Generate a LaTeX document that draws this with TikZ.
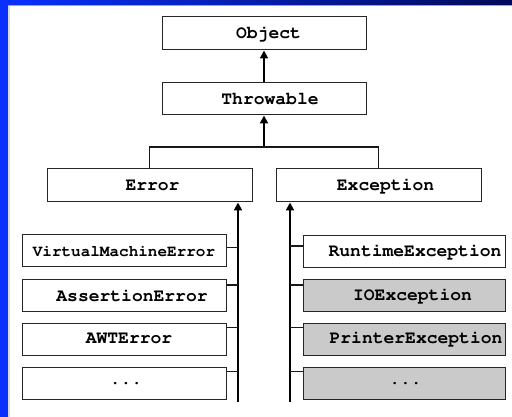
\documentclass[tikz,border=0pt]{standalone}
\usepackage[T1]{fontenc}
\usetikzlibrary{arrows.meta}
\newcommand\courbf[1]{\fontencoding{T1}\fontfamily{pcr}\fontseries{b}\fontshape{n}\fontsize{#1}{#1}\selectfont}
\definecolor{barblue}{HTML}{0A30FF}
\definecolor{navy}{HTML}{000A58}
\definecolor{boxgray}{HTML}{CACACA}
\tikzset{
  cls/.style={draw=black!85, line width=1pt, minimum height=32pt, inner sep=0pt,
    font=\courbf{18}},
  lbox/.style={cls, minimum width=204pt},
  rbox/.style={cls, minimum width=202pt},
  gbox/.style={rbox, fill=boxgray},
  thin/.style={line width=1.1pt, black!90},
  thick/.style={line width=2.6pt, -{Triangle[length=8pt,width=8pt]}},
}
\begin{document}
\begin{tikzpicture}[x=1pt,y=-1pt]
\useasboundingbox (0,0) rectangle (512,417);
% background frame
\fill[white] (0,0) rectangle (512,417);
\fill[barblue] (0,0) rectangle (7.5,417);
\fill[black!15] (7.5,6) rectangle (9.5,417);
\shade[left color=barblue, right color=navy] (0,0) rectangle (512,5);
\fill[black!35] (7.5,5) rectangle (512,6.5);
% nodes
\node[lbox, minimum height=33pt] (obj) at (264,33.5) {\hspace*{9pt}Object};
\node[lbox] (thr) at (264,99) {\hspace*{12pt}Throwable};
\node[lbox, minimum width=205pt, minimum height=33pt] (err) at (149.5,185.5) {\hspace*{6pt}Error};
\node[lbox, minimum width=205pt, minimum height=33pt] (exc) at (378.5,185.5) {\hspace*{14pt}Exception};
\node[lbox, font=\courbf{16}] (vm) at (124,251) {VirtualMachineError};
\node[lbox] (ae) at (124,295.5) {\hspace*{16pt}AssertionError};
\node[lbox] (awt) at (124,339) {\hspace*{10pt}AWTError};
\node[lbox] (ld) at (124,383) {\hspace*{4pt}...};
\node[rbox] (rt) at (404,251.5) {\hspace*{22pt}RuntimeException};
\node[gbox] (io) at (404,295.5) {\hspace*{17pt}IOException};
\node[gbox] (pr) at (404,339) {\hspace*{24pt}PrinterException};
\node[gbox] (rd) at (404,383) {\hspace*{3pt}...};
% connectors
\coordinate (J) at (264,147);
\coordinate (la) at (238,402);
\coordinate (ra) at (290,402);
\draw[thick] (thr.north) -- (obj.south);
\draw[thick] (J) -- (thr.south);
\draw[thin] (err.north) |- (J) -| (exc.north);
\draw[thick] (la) -- (la |- err.south);
\draw[thick] (ra) -- (ra |- exc.south);
\draw[thin] ([yshift=-13pt]vm.north east) coordinate (t1) -- (t1 -| la);
\draw[thin] ([yshift=-6pt]ae.north east) coordinate (t2) -- (t2 -| la);
\draw[thin] ([yshift=-5pt]awt.north east) coordinate (t3) -- (t3 -| la);
\draw[thin] ([yshift=-5pt]ld.north east) coordinate (t4) -- (t4 -| la);
\draw[thin] ([yshift=-11pt]rt.north west) coordinate (u1) -- (u1 -| ra);
\draw[thin] ([yshift=-6pt]io.north west) coordinate (u2) -- (u2 -| ra);
\draw[thin] ([yshift=-5pt]pr.north west) coordinate (u3) -- (u3 -| ra);
\draw[thin] ([yshift=-5pt]rd.north west) coordinate (u4) -- (u4 -| ra);
\end{tikzpicture}
\end{document}
